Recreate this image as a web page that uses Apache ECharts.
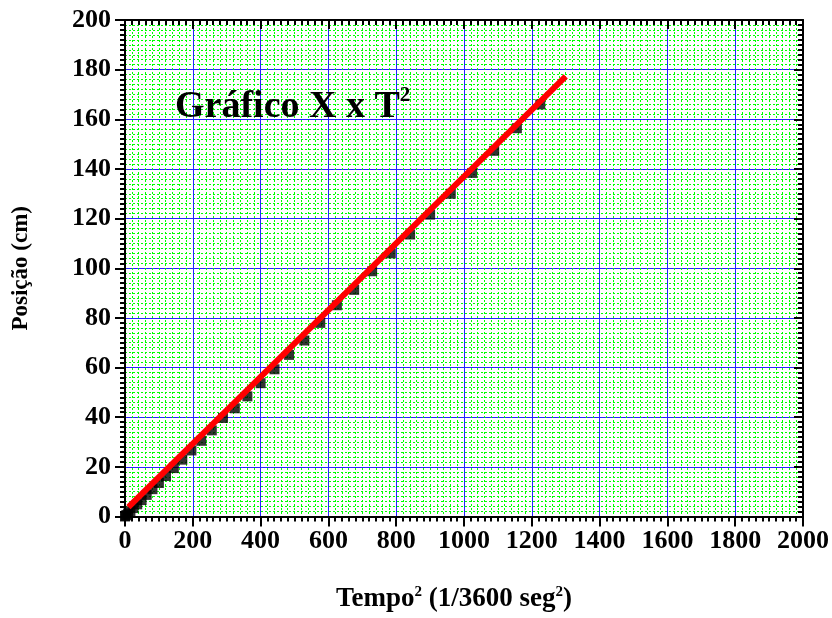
<!DOCTYPE html>
<html>
<head>
<meta charset="utf-8">
<script src="https://cdn.jsdelivr.net/npm/echarts@6/dist/echarts.min.js"></script>
<style>html,body{margin:0;padding:0;background:#fff}#c{width:832px;height:618px}</style>
</head>
<body>
<div id="c"></div>
<script>
// Data
var tSquared = [0,1,4,9,16,25,36,49,64,81,100,121,144,169,196,225,256,289,324,361,400,441,484,529,576,625,676,729,784,841,900,961,1024,1089,1156,1225];
var positions = [0,0.2,0.6,1.2,2.1,3.4,4.9,6.6,8.7,11,13.5,16.3,19.5,22.9,26.6,30.5,34.7,39.7,43.6,48.4,53.7,59.3,65.1,70.9,78,85.1,91.3,98.8,106,113.6,121.6,130,138.4,147.3,156.4,166];
var fitX = [10, 1300];
var fitY = [3.8, 177.3];

var FONT = 'Liberation Serif';
var points = tSquared.map(function (x, i) { return [x, positions[i]]; });
var fitLine = fitX.map(function (x, i) { return [x, fitY[i]]; });
var plain = function (v) { return String(v); };

var chart = echarts.init(document.getElementById('c'), null, {renderer: 'canvas'});
var axisLine = {show: true, onZero: false, lineStyle: {color: '#000', width: 2}};
chart.setOption({
  animation: false,
  backgroundColor: '#fff',
  title: {
    text: '{a|Gráfico X x T}{s|2}',
    left: 170, top: 80,
    textStyle: {
      rich: {
        a: {fontFamily: FONT, fontWeight: 'bold', fontSize: 38, color: '#000', lineHeight: 44},
        s: {fontFamily: FONT, fontWeight: 'bold', fontSize: 21, color: '#000', verticalAlign: 'top', lineHeight: 44, padding: [0, 0, 18, 0]}
      }
    }
  },
  grid: {left: 125, right: 27, top: 20, bottom: 98, containLabel: false},
  xAxis: [{
    type: 'value', min: 0, max: 2000, interval: 200,
    name: '{a|Tempo}{s|2}{a| (1/3600 seg}{s|2}{a|)}',
    nameLocation: 'middle', nameGap: 68,
    nameTextStyle: {
      padding: [0, 20, 0, 0],
      rich: {
        a: {fontFamily: FONT, fontWeight: 'bold', fontSize: 27, color: '#000', lineHeight: 30},
        s: {fontFamily: FONT, fontWeight: 'bold', fontSize: 15, color: '#000', verticalAlign: 'top', lineHeight: 30, padding: [0, 0, 12, 0]}
      }
    },
    axisLine: axisLine,
    axisTick: {show: true, inside: false, length: 10, lineStyle: {color: '#000', width: 2}},
    minorTick: {show: true, splitNumber: 10, length: 5, lineStyle: {color: '#000', width: 2}},
    axisLabel: {fontFamily: FONT, fontWeight: 'bold', fontSize: 26, color: '#000', margin: 12, formatter: plain},
    splitLine: {show: true, lineStyle: {color: '#2424ff', width: 1}},
    minorSplitLine: {show: true, lineStyle: {color: '#00ff00', width: 1, type: [2, 2]}}
  }, {
    type: 'value', min: 0, max: 2000, interval: 200, position: 'top',
    axisLine: axisLine,
    axisTick: {show: true, inside: true, length: 9, lineStyle: {color: '#000', width: 2}},
    minorTick: {show: true, splitNumber: 10, length: 5, lineStyle: {color: '#000', width: 2}},
    axisLabel: {show: false},
    splitLine: {show: false}
  }],
  yAxis: [{
    type: 'value', min: 0, max: 200, interval: 20,
    name: 'Posição (cm)', nameLocation: 'middle', nameGap: 92, nameRotate: 90,
    nameTextStyle: {fontFamily: FONT, fontWeight: 'bold', fontSize: 23, color: '#000'},
    axisLine: axisLine,
    axisTick: {show: true, inside: false, length: 10, lineStyle: {color: '#000', width: 2}},
    minorTick: {show: true, splitNumber: 10, length: 5, lineStyle: {color: '#000', width: 2}},
    axisLabel: {fontFamily: FONT, fontWeight: 'bold', fontSize: 26, color: '#000', margin: 14, formatter: plain},
    splitLine: {show: true, lineStyle: {color: '#2424ff', width: 1}},
    minorSplitLine: {show: true, lineStyle: {color: '#00ff00', width: 1, type: [2, 2]}}
  }, {
    type: 'value', min: 0, max: 200, interval: 20, position: 'right',
    axisLine: axisLine,
    axisTick: {show: true, inside: true, length: 9, lineStyle: {color: '#000', width: 2}},
    minorTick: {show: true, splitNumber: 10, length: 5, lineStyle: {color: '#000', width: 2}},
    axisLabel: {show: false},
    splitLine: {show: false}
  }],
  series: [{
    type: 'scatter', xAxisIndex: 0, yAxisIndex: 0,
    data: points, symbol: 'rect', symbolSize: 10,
    itemStyle: {color: '#000'}, z: 3
  }, {
    type: 'line', xAxisIndex: 0, yAxisIndex: 0,
    data: fitLine, showSymbol: false, symbol: 'none',
    lineStyle: {color: '#ff0000', width: 6}, z: 4
  }]
});
</script>
</body>
</html>
